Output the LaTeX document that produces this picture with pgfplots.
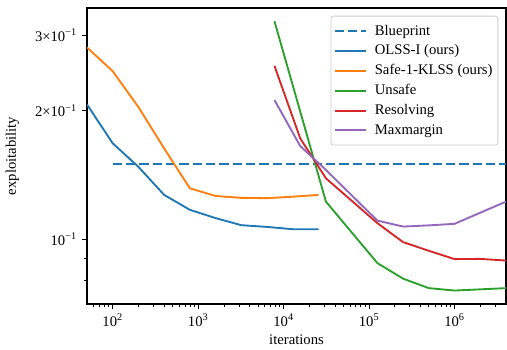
\documentclass[border=0pt,11pt]{standalone}
\usepackage{fontspec}
\setmainfont{Liberation Serif}
\usepackage{pgfplots}
\pgfplotsset{compat=1.18}
\definecolor{c0}{HTML}{1F77B4}
\definecolor{c1}{HTML}{FF7F0E}
\definecolor{c2}{HTML}{2CA02C}
\definecolor{c3}{HTML}{D62728}
\definecolor{c4}{HTML}{9467BD}
\newcommand{\f}{\fontsize{11}{13.2}\selectfont}
\begin{document}
\begin{tikzpicture}
\begin{axis}[
  scale only axis, width=314.25pt, height=222pt,
  xmode=log, ymode=log,
  xmin=50, xmax=4e6, ymin=0.0705, ymax=0.3475,
  xtick={100,1000,10000,100000,1000000},
  xticklabels={10\textsuperscript{2},10\textsuperscript{3},10\textsuperscript{4},10\textsuperscript{5},10\textsuperscript{6}},
  minor xtick={60,70,80,90,200,300,400,500,600,700,800,900,2000,3000,4000,5000,6000,7000,8000,9000,20000,30000,40000,50000,60000,70000,80000,90000,200000,300000,400000,500000,600000,700000,800000,900000,2000000,3000000},
  ytick={0.1,0.2,0.3},
  yticklabels={10\textsuperscript{−1},2×10\textsuperscript{−1},3×10\textsuperscript{−1}},
  minor ytick={0.08,0.09},
  tick label style={font=\f},
  label style={font=\f},
  tick align=outside, xtick pos=left, ytick pos=left,
  major tick length=3.75pt, minor tick length=2.25pt,
  every tick/.style={black, line width=0.6pt},
  axis line style={line width=0.8pt},
  xlabel={iterations}, ylabel={exploitability},
  xlabel style={at={(axis description cs:0.5,-0.122)}, anchor=center},
  ylabel style={at={(axis description cs:-0.178,0.5)}, anchor=center},
  legend cell align=left,
  legend style={font=\f, at={(rel axis cs:0.9816,0.974)}, anchor=north east, draw=black!20, rounded corners=2pt, fill=white, fill opacity=0.8, text opacity=1, inner xsep=2pt, inner ysep=4.6pt, row sep=1.6pt, line width=0.6pt, /tikz/every odd column/.append style={column sep=4.25pt}},
  every axis plot/.append style={line width=1.4pt, legend image code/.code={\draw[##1] (0pt,0pt) -- (23.3pt,0pt);}},
]
\addplot[c0, dash pattern=on 7pt off 3pt] coordinates {(100,0.15) (4e6,0.15)};
\addlegendentry{Blueprint}
\addplot[c0] coordinates {(50,0.2066) (100,0.1676) (200,0.1476) (400,0.1269) (800,0.1171) (1600,0.1120) (3200,0.1078) (6400,0.1068) (12800,0.1055) (25600,0.1055)};
\addlegendentry{OLSS-I (ours)}
\addplot[c1] coordinates {(50,0.2809) (100,0.2472) (200,0.2037) (400,0.163) (800,0.1315) (1600,0.1262) (3200,0.1249) (6400,0.1247) (12800,0.1257) (25600,0.1269)};
\addlegendentry{Safe-1-KLSS (ours)}
\addplot[c2] coordinates {(7812.5,0.3236) (31250,0.1224) (125000,0.0879) (250000,0.0808) (500000,0.0768) (1000000,0.0758) (2000000,0.0763) (4000000,0.0768)};
\addlegendentry{Unsafe}
\addplot[c3] coordinates {(7812.5,0.2544) (15625,0.1722) (31250,0.1388) (125000,0.109) (250000,0.0984) (500000,0.0939) (1000000,0.0898) (2000000,0.0899) (4000000,0.0891)};
\addlegendentry{Resolving}
\addplot[c4] coordinates {(7812.5,0.2116) (15625,0.1652) (31250,0.1452) (125000,0.1105) (250000,0.1070) (500000,0.1077) (1000000,0.1086) (2000000,0.1153) (4000000,0.1224)};
\addlegendentry{Maxmargin}
\end{axis}
\path (-65.25pt,-33.75pt) rectangle (315pt,228pt);
\end{tikzpicture}
\end{document}
